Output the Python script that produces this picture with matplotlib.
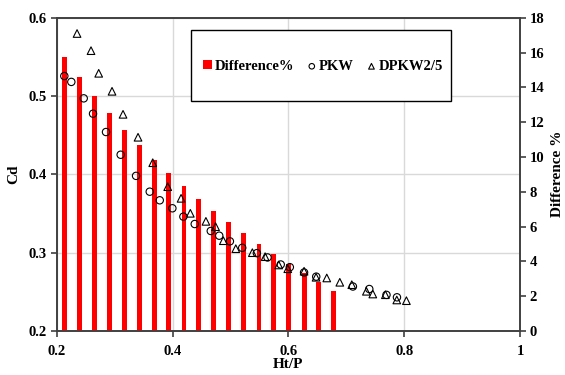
import matplotlib.pyplot as plt
from matplotlib.patches import Rectangle

plt.rcParams['font.family'] = ['Liberation Serif', 'DejaVu Serif']
plt.rcParams['font.weight'] = 'bold'

# Difference % bars (right axis)
diff_x = [0.2137, 0.2386, 0.2654, 0.2909, 0.3164, 0.3426, 0.3681, 0.3930, 0.4198,
          0.4453, 0.4715, 0.4970, 0.5232, 0.5493, 0.5748, 0.6010, 0.6271, 0.6520, 0.6782]
diff_pct = [15.73, 14.58, 13.50, 12.53, 11.57, 10.69, 9.82, 9.06, 8.33,
            7.58, 6.89, 6.28, 5.65, 5.01, 4.42, 3.83, 3.31, 2.81, 2.29]

# PKW discharge coefficient
pkw_x = [0.2131, 0.2252, 0.2466, 0.2627, 0.2851, 0.3104, 0.3370, 0.3606, 0.3779,
         0.3997, 0.4187, 0.4383, 0.4660, 0.4806, 0.4990, 0.5203, 0.5456, 0.5640,
         0.5868, 0.6025, 0.6271, 0.6481, 0.7114, 0.7397, 0.7694, 0.7875]
pkw_cd = [0.5255, 0.5180, 0.4970, 0.4774, 0.4540, 0.4250, 0.3980, 0.3778, 0.3668,
          0.3566, 0.3459, 0.3365, 0.3276, 0.3216, 0.3144, 0.3061, 0.2993, 0.2938,
          0.2848, 0.2814, 0.2746, 0.2693, 0.2567, 0.2535, 0.2460, 0.2429]

# DPKW2/5 discharge coefficient
dpkw_x = [0.2351, 0.2592, 0.2725, 0.2955, 0.3145, 0.3404, 0.3658, 0.3917, 0.4147,
          0.4307, 0.4576, 0.4743, 0.4877, 0.5092, 0.5378, 0.5598, 0.5834, 0.5990,
          0.6271, 0.6478, 0.6663, 0.6888, 0.7095, 0.7347, 0.7458, 0.7675, 0.7872, 0.8038]
dpkw_cd = [0.5798, 0.5579, 0.5290, 0.5060, 0.4766, 0.4473, 0.4148, 0.3842, 0.3693,
           0.3502, 0.3399, 0.3331, 0.3152, 0.3050, 0.2999, 0.2948, 0.2842, 0.2794,
           0.2762, 0.2685, 0.2676, 0.2621, 0.2590, 0.2506, 0.2471, 0.2462, 0.2395, 0.2386]

fig = plt.figure(figsize=(5.65, 3.75), dpi=100)
ax = fig.add_axes([0.1004, 0.1176, 0.8200, 0.8352])
ax2 = ax.twinx()

ax.set_xlim(0.2, 1.0)
ax.set_ylim(0.2, 0.6)
ax.set_xticks([0.2, 0.4, 0.6, 0.8, 1.0])
ax.set_xticklabels(['0.2', '0.4', '0.6', '0.8', '1'])
ax.set_yticks([0.2, 0.3, 0.4, 0.5, 0.6])
ax2.set_yticks(range(0, 19, 2))
ax.grid(True, color='#d9d9d9', linewidth=1.0)
ax.set_axisbelow(True)

bars = ax2.bar(diff_x, diff_pct, width=0.0085, color='#ff0000', label='Difference%', zorder=2)
# markers live on ax2 (drawn above bars) but use the left-axis scale
pk = ax2.scatter(pkw_x, pkw_cd, s=28, marker='o', facecolors='none', edgecolors='black',
                 linewidths=0.8, transform=ax.transData, label='PKW', zorder=3)
dp = ax2.scatter(dpkw_x, dpkw_cd, s=30, marker='^', facecolors='none', edgecolors='black',
                 linewidths=0.8, transform=ax.transData, label='DPKW2/5', zorder=3)
ax2.set_ylim(0, 18)

for a in (ax, ax2):
    for s in a.spines.values():
        s.set_color('#404040')
        s.set_linewidth(1.2)
ax.tick_params(axis='both', direction='out', length=4, width=1.2, color='#404040',
               labelsize=10.5, pad=3)
ax2.tick_params(axis='y', direction='out', length=4, width=1.2, color='#404040',
                labelsize=10.5, pad=3)
ax.tick_params(axis='x', pad=6)

ax.set_xlabel('Ht/P', fontsize=11, fontweight='bold', labelpad=0)
ax.set_ylabel('Cd', fontsize=11, fontweight='bold', labelpad=6)
ax2.set_ylabel('Difference %', fontsize=11, fontweight='bold', labelpad=5)

# legend box drawn separately (tall padding like the original)
box = Rectangle((0.29, 0.734), 0.561, 0.227, transform=ax2.transAxes, facecolor='white',
                edgecolor='black', linewidth=1.0, zorder=4)
ax2.add_patch(box)
leg = ax2.legend(handles=[bars, pk, dp], loc='center', ncol=3,
                 bbox_to_anchor=(0.575, 0.845), frameon=False,
                 handlelength=0.6, handleheight=0.6, handletextpad=0.2,
                 columnspacing=0.9, prop={'weight': 'bold', 'size': 10.5}, markerscale=0.75)
leg.set_zorder(5)

fig.savefig('out.png', dpi=100)
